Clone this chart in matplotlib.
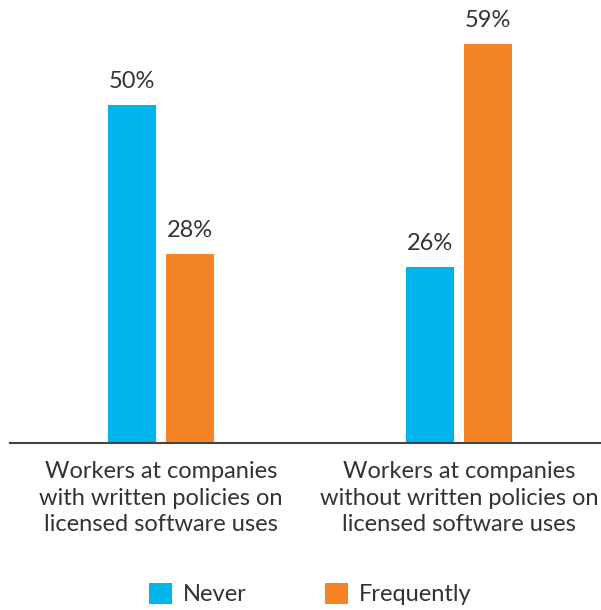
import matplotlib.pyplot as plt
import numpy as np

categories = ["Workers at companies\nwith written policies on\nlicensed software uses",
              "Workers at companies\nwithout written policies on\nlicensed software uses"]
never = [50, 26]
frequently = [28, 59]

blue = "#00B5EC"
orange = "#F58426"
txt = "#333333"

plt.rcParams['font.family'] = ['Lato', 'DejaVu Sans']

fig = plt.figure(figsize=(6.01, 6.10), dpi=100)
ax = fig.add_axes([10/601, 167/610, 591/601, 443/610])

x = np.arange(len(categories))
w = 48/298
off = 29/298
b1 = ax.bar(x - off, never, w, color=blue, label="Never")
b2 = ax.bar(x + off, frequently, w, color=orange, label="Frequently")

for bars, vals in [(b1, never), (b2, frequently)]:
    for b, v in zip(bars, vals):
        ax.annotate(f"{v}%", (b.get_x() + b.get_width()/2, v),
                    xytext=(0, 9.5), textcoords="offset points",
                    ha="center", va="bottom", fontsize=17, color=txt)

ax.set_xlim((10-161)/298, (601-161)/298)
ax.set_ylim(0, 443/6.76)
ax.set_xticks(x)
ax.set_xticklabels(categories, fontsize=17, color=txt, linespacing=1.33)
ax.tick_params(axis='x', length=0, pad=13)
ax.set_yticks([])
for s in ["top", "right", "left"]:
    ax.spines[s].set_visible(False)
ax.spines["bottom"].set_color("#444444")
ax.spines["bottom"].set_linewidth(1.5)

fig.legend(handles=[b1, b2], loc="center", bbox_to_anchor=(310/601, 1 - 594/610),
           ncol=2, frameon=False, fontsize=17, handlelength=1.0, handleheight=1.0,
           columnspacing=3.3, handletextpad=0.45, labelcolor=txt)

fig.savefig("out.png", dpi=100)
